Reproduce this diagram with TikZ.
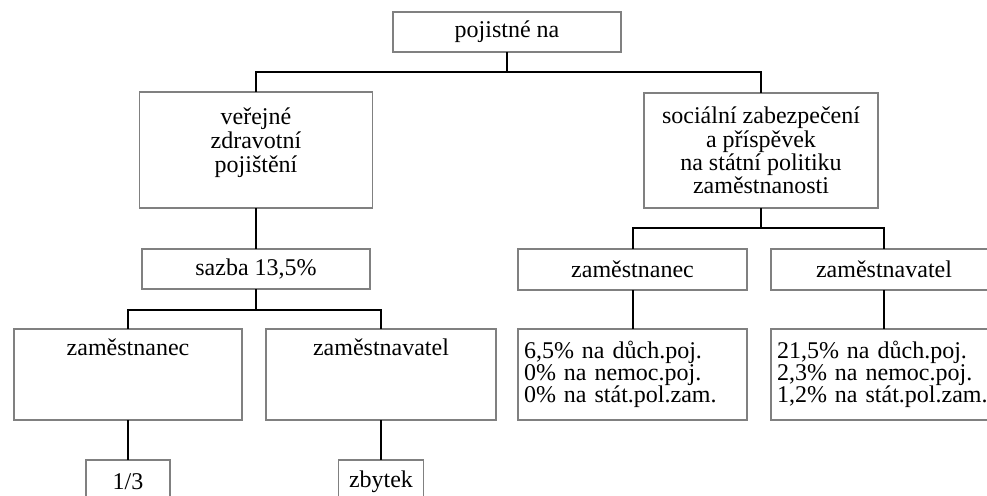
\documentclass[tikz,border=0pt]{standalone}
\usepackage{fontspec}
\setmainfont{Liberation Serif}

\tikzset{
  box/.style={draw=gray,line width=0.8pt,inner sep=0pt,outer sep=0pt,font=\fontsize{12}{11.7}\selectfont},
  listbox/.style={box,align=left,inner xsep=3pt,font=\fontsize{12}{10.9}\selectfont},
  link/.style={line width=1pt,black},
}

\begin{document}
\begin{tikzpicture}[x=0.5pt,y=-0.5pt]
\clip[use as bounding box](0,0)rectangle(987,495);
% top
\node[box,minimum width=114pt,minimum height=20pt](top)at(507,32){pojistné na};
% left branch
\node[box,minimum width=116.5pt,minimum height=58pt](vzp)at(256,150)
  {\parbox[c][58pt][t]{110pt}{\centering\baselineskip=12pt\vspace{8pt}veřejné\\zdravotní\\pojištění}};
\node[box,minimum width=114pt,minimum height=20pt](sazba)at(256,269){sazba 13,5\%};
\node[box,minimum width=114pt,minimum height=45.5pt](zamL)at(128,374.5)
  {\parbox[c][45.5pt][t]{110pt}{\centering\vspace{5pt}zaměstnanec}};
\node[box,minimum width=115pt,minimum height=45.5pt](zavL)at(381,374.5)
  {\parbox[c][45.5pt][t]{110pt}{\centering\vspace{5pt}zaměstnavatel}};
\node[box,minimum width=42pt,minimum height=22pt](tretina)at(128,482){1/3};
\node[box,minimum width=42.5pt,minimum height=22pt](zbytek)at(381,482){zbytek};
% right branch
\node[box,minimum width=117pt,minimum height=57.5pt,align=center](soc)at(761,150.5)
  {sociální zabezpečení\\a příspěvek\\na státní politiku\\zaměstnanosti};
\node[box,minimum width=114.5pt,minimum height=20.5pt](zamR)at(632.5,269.5){zaměstnanec};
\node[box,minimum width=113pt,minimum height=20.5pt](zavR)at(884,269.5){zaměstnavatel};
\node[listbox,minimum width=114.5pt,minimum height=45.5pt,text width=108.5pt](procL)at(632.5,374.5)
  {6,5\% na důch.poj.\\0\% na nemoc.poj.\\0\% na stát.pol.zam.};
\node[listbox,minimum width=113pt,minimum height=45.5pt,text width=107pt](procR)at(884,374.5)
  {21,5\% na důch.poj.\\2,3\% na nemoc.poj.\\1,2\% na stát.pol.zam.};
% connectors
\coordinate(j1)at(507,72);
\coordinate(j2)at(256,310);
\coordinate(j3)at(761,228);
\draw[link](top.south)--(j1)-|(vzp.north);
\draw[link](j1)-|(soc.north);
\draw[link](vzp)--(sazba);
\draw[link](sazba.south)--(j2)-|(zamL.north);
\draw[link](j2)-|(zavL.north);
\draw[link](zamL)--(tretina);
\draw[link](zavL)--(zbytek);
\draw[link](soc.south)--(j3)-|(zamR.north);
\draw[link](j3)-|(zavR.north);
\draw[link](zamR)--(procL);
\draw[link](zavR)--(procR);
\end{tikzpicture}
\end{document}
